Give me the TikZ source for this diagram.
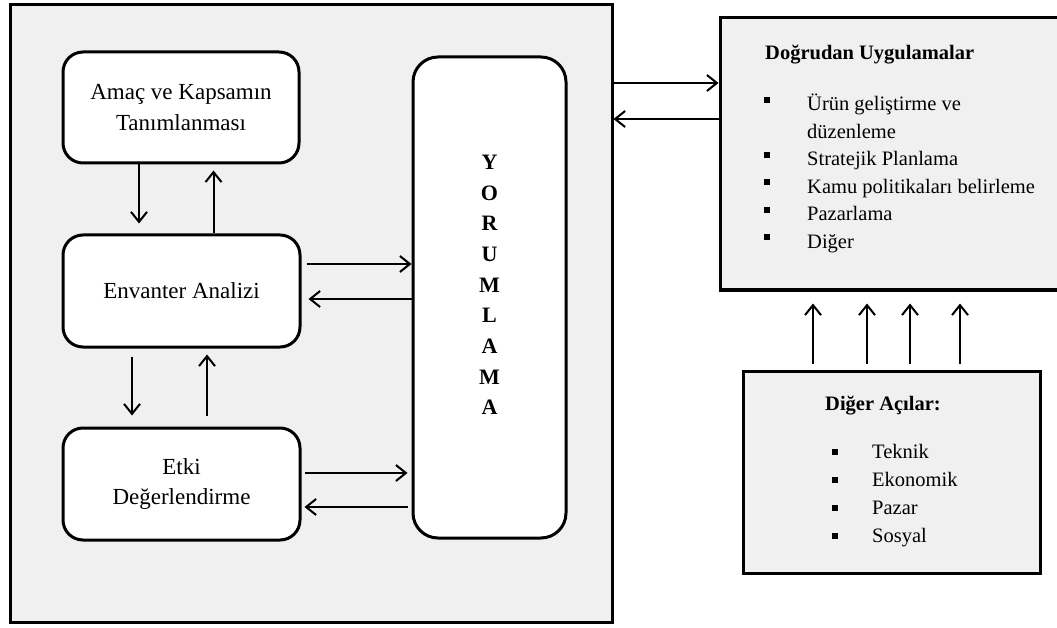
\documentclass[tikz,border=0pt]{standalone}
\usepackage{fontspec}
\setmainfont{Liberation Serif}
\usetikzlibrary{arrows.meta}
\definecolor{panel}{HTML}{F0F0F0}
\begin{document}
\begin{tikzpicture}[x=1pt,y=-1pt,
  panelbox/.style={draw, line width=3pt, fill=panel, inner sep=0pt},
  stagebox/.style={draw, line width=3pt, fill=white, rounded corners=20pt,
    inner sep=0pt, align=center, font=\fontsize{23}{30.6}\selectfont},
  arr/.style={line width=2pt, -{Straight Barb[length=10pt,width=16pt]}},
  listtext/.style={anchor=base west, inner sep=0pt, font=\fontsize{20.5}{24}\selectfont},
  listhead/.style={anchor=base west, inner sep=0pt, font=\fontsize{20.5}{24}\selectfont\bfseries},
  bulletsq/.style={fill=black, inner sep=0pt, minimum width=5.5pt, minimum height=6pt},
  letter/.style={anchor=base, inner sep=0pt, font=\fontsize{22}{24}\selectfont\bfseries}]
\useasboundingbox (0,0) rectangle (1057,628);
\clip (0,0) rectangle (1057,628);

% LCA frame with its phases
\node[panelbox, minimum width=602pt, minimum height=617pt] (frame) at (311,313.5) {};
\node[stagebox, minimum width=236pt, minimum height=111pt] (amac) at (181,107.5) {Amaç ve Kapsamın\\Tanımlanması};
\node[stagebox, minimum width=237pt, minimum height=112pt] (env) at (181.5,291) {Envanter Analizi};
\node[stagebox, minimum width=237pt, minimum height=112pt] (etki) at (181.5,484) {Etki\\Değerlendirme};
\node[stagebox, minimum width=153pt, minimum height=481pt, rounded corners=25pt] (yorum) at (489.5,297.5) {};
\foreach \l [count=\i from 0] in {Y,O,R,U,M,L,A,M,A}
  \node[letter] (yl\i) at (489.5,{169.8+30.6*\i}) {\l};

% applications
\node[panelbox, minimum width=344pt, minimum height=272pt] (dogru) at (892,154) {};
\node[listhead] (dtitle) at (765,60) {Doğrudan Uygulamalar};
\node[listtext] (d1) at (807,111) {Ürün geliştirme ve};
\node[listtext] (d1b) at (807,138.5) {düzenleme};
\node[listtext] (d2) at (807,166) {Stratejik Planlama};
\node[listtext] (d3) at (807,193.5) {Kamu politikaları belirleme};
\node[listtext] (d4) at (807,221) {Pazarlama};
\node[listtext] (d5) at (807,248.5) {Diğer};
\foreach \y [count=\i] in {111,166,193.5,221,248.5}
  \node[bulletsq] (db\i) at (767,{\y-11}) {};

% other aspects
\node[panelbox, minimum width=297pt, minimum height=202pt] (diger) at (891.5,472) {};
\node[listhead] (atitle) at (825,410) {Diğer Açılar:};
\node[listtext] (a1) at (872,458) {Teknik};
\node[listtext] (a2) at (872,486) {Ekonomik};
\node[listtext] (a3) at (872,514) {Pazar};
\node[listtext] (a4) at (872,542) {Sosyal};
\foreach \y [count=\i] in {458,486,514,542}
  \node[bulletsq] (ab\i) at (835,{\y-6}) {};

% vertical links between phases
\draw[arr] ([xshift=-42pt]amac.south) -- ([xshift=-42.5pt,yshift=10pt]env.north);
\draw[arr] ([xshift=32pt]env.north) -- ([xshift=32.5pt,yshift=-6pt]amac.south);
\draw[arr] ([xshift=-49.5pt,yshift=-8pt]env.south) -- ([xshift=-49.5pt,yshift=11pt]etki.north);
\draw[arr] ([xshift=25.5pt,yshift=11pt]etki.north) -- ([xshift=25.5pt,yshift=-6pt]env.south);

% links to interpretation
\coordinate (ea) at ([yshift=27pt]env.east);
\coordinate (eb) at ([yshift=-8pt]env.east);
\coordinate (eat) at (ea -| yorum.west);
\coordinate (ebt) at (eb -| yorum.west);
\draw[arr] ([xshift=5pt]ea) -- (eat);
\draw[arr] (ebt) -- ([xshift=7pt]eb);
\coordinate (ka) at ([yshift=11pt]etki.east);
\coordinate (kb) at ([yshift=-23pt]etki.east);
\coordinate (kat) at (ka -| yorum.west);
\coordinate (kbt) at (kb -| yorum.west);
\draw[arr] ([xshift=3pt]ka) -- ([xshift=-4pt]kat);
\draw[arr] ([xshift=-4pt]kbt) -- ([xshift=3pt]kb);

% frame <-> applications
\coordinate (fa) at ([yshift=71pt]dogru.west);
\coordinate (fb) at ([yshift=35pt]dogru.west);
\coordinate (fat) at (fa -| frame.east);
\coordinate (fbt) at (fb -| frame.east);
\draw[arr] (fat) -- (fa);
\draw[arr] (fb) -- (fbt);

% other aspects feed the applications
\foreach \dx [count=\i] in {-78.5,-24.5,18.5,68.5} {
  \coordinate (u\i) at ([xshift=\dx pt]diger.north);
  \coordinate (v\i) at (u\i |- dogru.south);
  \draw[arr] ([yshift=6pt]u\i) -- ([yshift=-12pt]v\i);
}
\end{tikzpicture}
\end{document}
